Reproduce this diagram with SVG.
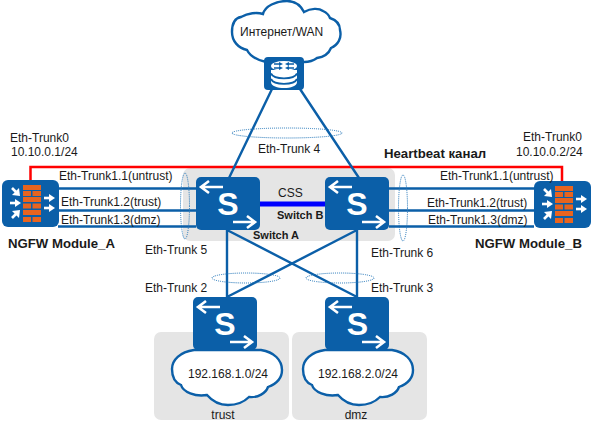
<svg xmlns="http://www.w3.org/2000/svg" width="592" height="429" viewBox="0 0 592 429">
<style>
text{font-family:"Liberation Sans",Arial,sans-serif;font-size:12px;fill:#1a1a1a}
.b{font-weight:bold}
.b13{font-weight:bold;font-size:13.200px}
.b11{font-weight:bold;font-size:11px}
.panel{fill:#e5e5e5}
.link{stroke:#0b5fa8;stroke-width:2.400;fill:none}
.link2{stroke:#0b5fa8;stroke-width:2.400;fill:none}
.ell{fill:none;stroke:#1f74b8;stroke-width:1;stroke-dasharray:1 1}
.body{fill:#0b5fa8}
.cloud{fill:#fff;stroke:#0b5fa8;stroke-width:2.400}
.ic{fill:none;stroke:#fff;stroke-width:2.600}
.ih{fill:#fff}
.brick{fill:#e8641f}
.m{text-anchor:middle}
.s{font-size:32px;font-weight:bold;fill:#fff;text-anchor:middle}
</style>
<defs>
<g id="sw">
<rect width="64" height="53" rx="5" class="body"/>
<path class="ic" d="M5 10H27M13 4L5 10L13 16"/>
<path class="ic" d="M37 45H59M51 39L59 45L51 51"/>
</g>
<g id="fw">
<rect width="57" height="47" rx="6" class="body"/>
<g class="brick">
<rect x="21" y="5" width="18" height="5"/>
<rect x="21" y="11" width="8" height="5"/><rect x="30.500" y="11" width="8.500" height="5"/>
<rect x="21" y="17" width="18" height="5"/>
<rect x="21" y="23.500" width="8" height="5"/><rect x="30.500" y="23.500" width="8.500" height="5"/>
<rect x="21" y="30" width="18" height="5"/>
<rect x="21" y="37" width="8" height="5"/><rect x="30.500" y="37" width="8.500" height="5"/>
</g>
<g class="ic" stroke-width="2.500">
<path d="M10 8L15 13"/><path d="M8 23H14"/><path d="M10 38L15 33"/><path d="M42 18H48"/><path d="M42 28H48"/>
</g>
<g class="ih">
<path d="M18 16L17 8L10 15Z"/>
<path d="M19 23L13 19V27Z"/>
<path d="M18 30L17 38L10 31Z"/>
<path d="M53 18L47 14V22Z"/>
<path d="M53 28L47 24V32Z"/>
</g>
</g>
</defs>
<g id="panels">
<rect class="panel" x="183" y="168" width="212" height="73" rx="7"/>
<rect class="panel" x="154" y="332" width="135" height="88" rx="7"/>
<rect class="panel" x="292" y="332" width="135" height="88" rx="7"/>
</g>
<g id="connectors">
<path d="M30.500 181V167H562V182" fill="none" stroke="#f00" stroke-width="2.500"/>
<path class="link" d="M272 89L229 178M300 89L359 178"/>
<path class="link2" d="M58 188.500H196M58 210.500H196M58 226.500H196M389 188.500H534M389 210.500H534M389 226.500H534"/>
<path class="link" d="M227 229V298M357 229V298M227 230L357 297M357 230L227 297"/>
<path d="M260 204H325" stroke="#00f" stroke-width="5" fill="none"/>
</g>
<g id="bundles">
<ellipse class="ell" cx="287" cy="133" rx="55" ry="5"/>
<ellipse class="ell" cx="185" cy="206" rx="4.500" ry="33"/>
<ellipse class="ell" cx="403" cy="208" rx="4.500" ry="33"/>
<ellipse class="ell" cx="246" cy="278" rx="34" ry="5"/>
<ellipse class="ell" cx="340" cy="278" rx="34" ry="5"/>
</g>
<g id="internet">
<path class="cloud" d="M266 62C257 60 250 56 247 50C238 48 232 41 232 32C232 24 235 18 241 17C248 13 257 12 263 14C265 6 276 1 287 1C294 1 300 4 304 12C311 8 319 8 323 11C327 13 329 15 330 18C336 20 340 24 340 30C342 38 338 45 331 48C329 53 324 57 317 58C313 61 309 62 304 62Z"/>
<text x="240" y="36">Интернет/WAN</text>
</g>
<g id="router">
<rect x="264" y="57" width="40" height="33" rx="4" class="body"/>
<path d="M271 70V82C271 90 297 90 297 82V70Z" fill="#fff"/>
<path d="M271 73.500C274 80 294 80 297 73.500M271 79C274 85.500 294 85.500 297 79" stroke="#0b5fa8" stroke-width="1.800" fill="none"/>
<ellipse cx="284" cy="66" rx="13" ry="5" fill="#fff"/>
<path d="M274 64H280M274 68H280M294 64H288M294 68H288" stroke="#0b5fa8" stroke-width="1.500" fill="none"/>
<path d="M283 64L279 62V66ZM283 68L279 66V70ZM285 64L289 62V66ZM285 68L289 66V70Z" fill="#0b5fa8"/>
</g>
<g id="switch-a">
<use href="#sw" x="196" y="177"/><text class="s" x="228" y="215">S</text>
<text class="b11" x="253" y="239">Switch A</text>
</g>
<g id="switch-b">
<use href="#sw" x="325" y="177"/><text class="s" x="357" y="215">S</text>
<text class="b11" x="277" y="219">Switch B</text>
</g>
<g id="cloud-trust">
<path class="cloud" d="M194 350C180 352 172 360 172 369C172 378 176 383 181 385C183 392 195 397 207 395C213 402 220 405 228 405C237 405 244 402 249 397C258 398 266 393 268 387C276 384 282 379 282 370C282 360 274 352 261 350Z"/>
<text class="m" x="228" y="378">192.168.1.0/24</text>
</g>
<g id="cloud-dmz">
<path class="cloud" d="M325 350C311 352 303 360 303 369C303 378 307 383 312 385C314 392 326 397 338 395C344 402 351 405 359 405C368 405 375 402 380 397C389 398 397 393 399 387C407 384 413 379 413 370C413 360 405 352 392 350Z"/>
<text class="m" x="358" y="378">192.168.2.0/24</text>
</g>
<g id="switch-trust">
<use href="#sw" x="193" y="297"/><text class="s" x="225" y="335">S</text>
</g>
<g id="switch-dmz">
<use href="#sw" x="325" y="297"/><text class="s" x="357.500" y="335">S</text>
</g>
<text class="m" x="223" y="419">trust</text>
<text class="m" x="356" y="419">dmz</text>
<g id="ngfw-a">
<use href="#fw" x="2" y="180"/>
<text class="b13" x="8" y="248">NGFW Module_A</text>
</g>
<g id="ngfw-b">
<use href="#fw" x="534" y="181"/>
<text class="b13" x="475" y="248">NGFW Module_B</text>
</g>
<g id="labels">
<text x="10" y="142">Eth-Trunk0</text>
<text x="11" y="156">10.10.0.1/24</text>
<text x="523" y="141">Eth-Trunk0</text>
<text x="516" y="156">10.10.0.2/24</text>
<text class="b13" x="384" y="158">Heartbeat канал</text>
<text x="59" y="180">Eth-Trunk1.1(untrust)</text>
<text x="61" y="206">Eth-Trunk1.2(trust)</text>
<text x="61" y="224">Eth-Trunk1.3(dmz)</text>
<text x="440" y="180">Eth-Trunk1.1(untrust)</text>
<text x="427" y="207">Eth-Trunk1.2(trust)</text>
<text x="428" y="224">Eth-Trunk1.3(dmz)</text>
<text x="258" y="153">Eth-Trunk 4</text>
<text x="278" y="197">CSS</text>
<text x="145" y="254">Eth-Trunk 5</text>
<text x="371" y="257">Eth-Trunk 6</text>
<text x="145" y="292">Eth-Trunk 2</text>
<text x="371" y="292">Eth-Trunk 3</text>
</g>
</svg>
